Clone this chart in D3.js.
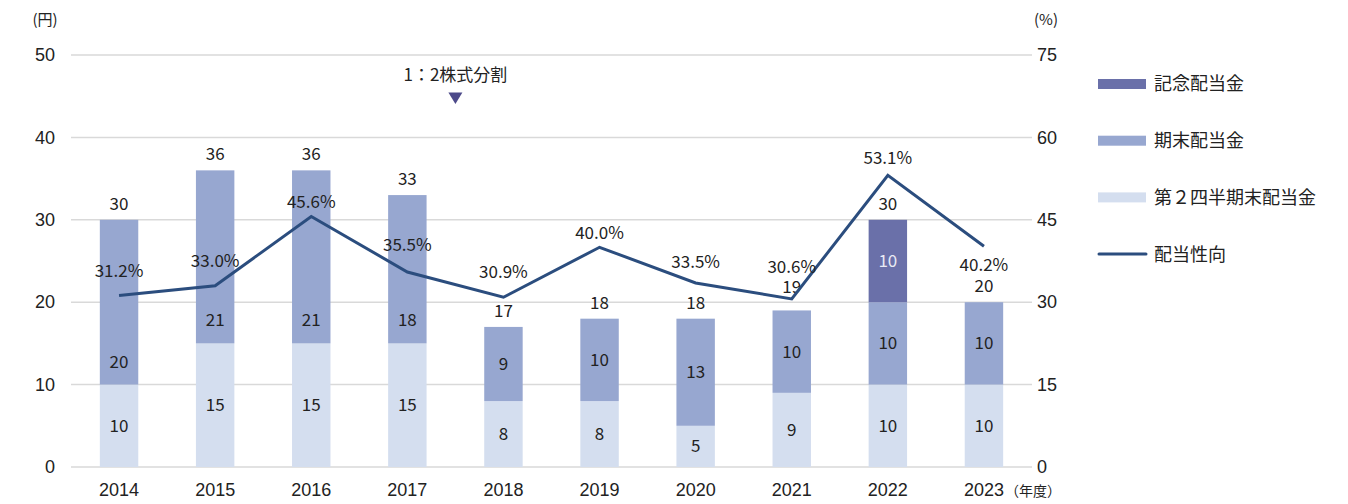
<!DOCTYPE html>
<html>
<head>
<meta charset="utf-8">
<script src="https://cdn.jsdelivr.net/npm/d3@7"></script>
<style>
  html, body { margin: 0; padding: 0; background: #fff; }
  svg { display: block; font-family: "Noto Sans CJK JP", "Noto Sans", sans-serif; }
</style>
</head>
<body>
<svg id="chart" width="1348" height="504"></svg>
<script>
// 年度
const years = ["2014", "2015", "2016", "2017", "2018", "2019", "2020", "2021", "2022", "2023"];
// 第2四半期末配当金 (円)
const interimDividend = [10, 15, 15, 15, 8, 8, 5, 9, 10, 10];
// 期末配当金 (円)
const yearEndDividend = [20, 21, 21, 18, 9, 10, 13, 10, 10, 10];
// 記念配当金 (円)
const commemorativeDividend = [0, 0, 0, 0, 0, 0, 0, 0, 10, 0];
// 配当性向 (%)
const payoutRatio = [31.2, 33.0, 45.6, 35.5, 30.9, 40.0, 33.5, 30.6, 53.1, 40.2];
// 軸目盛
const yenTicks = [0, 10, 20, 30, 40, 50];
const pctTicks = [0, 15, 30, 45, 60, 75];

// 配当性向ラベルの線からの縦オフセット (px)
const pctLabelDy = [-25, -25, -14, -27, -25, -14, -21, -32, -17, 19];
// 合計ラベルの棒上端からの縦オフセット (px)
const totalLabelDy = [-16, -16, -16, -16, -16, -16, -16, -23, -16, -16];
// 期末配当金ラベル: 区間下端からの距離 (px)、null は区間中央
const endLabelFromBottom = [23, 23, 23, 23, null, null, null, null, null, null];

const colors = {
  commemorative: "#6a70a9",
  yearEnd: "#97a7d0",
  interim: "#d4deef",
  line: "#2b4d7e",
  grid: "#d9d9d9",
  text: "#222"
};

const svg = d3.select("#chart");
const W = 1348, H = 504;
const x0 = 71, x1 = 1032;
const yTop = 55, yBot = 467;

const x = d3.scaleBand().domain(years).range([x0, x1]).paddingInner(0.6).paddingOuter(0.3);
const yL = d3.scaleLinear().domain([0, 50]).range([yBot, yTop]);
const yR = d3.scaleLinear().domain([0, 75]).range([yBot, yTop]);
const cx = yr => x(yr) + x.bandwidth() / 2;

// グリッド線
svg.append("g").selectAll("line").data(yenTicks).join("line")
  .attr("x1", x0).attr("x2", x1)
  .attr("y1", d => yL(d)).attr("y2", d => yL(d))
  .attr("stroke", colors.grid).attr("stroke-width", 1.5);

// 左軸
const leftAxis = svg.append("g").attr("transform", `translate(${x0},0)`)
  .call(d3.axisLeft(yL).tickValues(yenTicks).tickSize(0).tickPadding(16));
leftAxis.select(".domain").remove();
leftAxis.selectAll("text").attr("font-size", 18).attr("fill", colors.text).attr("font-family", "inherit");

// 右軸
const rightAxis = svg.append("g").attr("transform", `translate(${x1},0)`)
  .call(d3.axisRight(yR).tickValues(pctTicks).tickSize(0).tickPadding(5));
rightAxis.select(".domain").remove();
rightAxis.selectAll("text").attr("font-size", 18).attr("fill", colors.text).attr("font-family", "inherit");

// 下軸
const bottomAxis = svg.append("g").attr("transform", `translate(0,${yBot})`)
  .call(d3.axisBottom(x).tickSize(0).tickPadding(16));
bottomAxis.select(".domain").remove();
bottomAxis.selectAll("text").attr("font-size", 18).attr("fill", colors.text).attr("font-family", "inherit");

// 単位
svg.append("text").attr("x", 45).attr("y", 20).attr("dy", "0.35em").attr("text-anchor", "middle")
  .attr("font-size", 15).attr("fill", colors.text).text("(円)");
svg.append("text").attr("x", 1046).attr("y", 20).attr("dy", "0.35em").attr("text-anchor", "middle")
  .attr("font-size", 15).attr("fill", colors.text).text("(%)");
svg.append("text").attr("x", 1033).attr("y", 491).attr("dy", "0.35em").attr("text-anchor", "middle")
  .attr("font-size", 14).attr("fill", colors.text).text("（年度）");

// 積み上げ棒
const rows = years.map((yr, i) => ({
  year: yr, i,
  interim: interimDividend[i],
  yearEnd: yearEndDividend[i],
  commemorative: commemorativeDividend[i]
}));
const stack = d3.stack().keys(["interim", "yearEnd", "commemorative"])(rows);

const bars = svg.append("g");
stack.forEach(layer => {
  bars.append("g").attr("fill", colors[layer.key])
    .selectAll("rect").data(layer.filter(d => d[1] > d[0])).join("rect")
    .attr("x", d => x(d.data.year))
    .attr("width", x.bandwidth())
    .attr("y", d => yL(d[1]))
    .attr("height", d => yL(d[0]) - yL(d[1]));
});

// 区間ラベル
const segLabels = svg.append("g").attr("font-size", 17).attr("text-anchor", "middle");
stack.forEach(layer => {
  layer.filter(d => d[1] > d[0]).forEach(d => {
    const i = d.data.i;
    let cy = (yL(d[0]) + yL(d[1])) / 2;
    if (layer.key === "yearEnd" && endLabelFromBottom[i] != null) cy = yL(d[0]) - endLabelFromBottom[i];
    segLabels.append("text")
      .attr("x", cx(d.data.year))
      .attr("y", cy).attr("dy", "0.35em")
      .attr("fill", layer.key === "commemorative" ? "#e8eaf4" : colors.text)
      .text(d[1] - d[0]);
  });
});

// 合計ラベル
svg.append("g").attr("font-size", 17).attr("text-anchor", "middle").attr("fill", colors.text)
  .selectAll("text").data(rows).join("text")
  .attr("x", d => cx(d.year))
  .attr("y", (d, i) => yL(d.interim + d.yearEnd + d.commemorative) + totalLabelDy[i])
  .attr("dy", "0.35em")
  .text(d => d.interim + d.yearEnd + d.commemorative);

// 配当性向の折れ線
const line = d3.line()
  .x((d, i) => cx(years[i]))
  .y(d => yR(d));
svg.append("path").datum(payoutRatio)
  .attr("d", line).attr("fill", "none")
  .attr("stroke", colors.line).attr("stroke-width", 3).attr("stroke-linejoin", "miter");

svg.append("g").attr("font-size", 17).attr("text-anchor", "middle").attr("fill", colors.text)
  .selectAll("text").data(payoutRatio).join("text")
  .attr("x", (d, i) => cx(years[i]))
  .attr("y", (d, i) => yR(d) + pctLabelDy[i]).attr("dy", "0.35em")
  .text(d => d.toFixed(1) + "%");

// 株式分割の注記
const splitX = (x(years[3]) + x(years[4]) + x.bandwidth()) / 2;
svg.append("text").attr("x", splitX).attr("y", 75).attr("dy", "0.35em").attr("text-anchor", "middle")
  .attr("font-size", 17).attr("fill", colors.text).text("1：2株式分割");
svg.append("path")
  .attr("d", `M${splitX - 7},92.5 L${splitX + 7},92.5 L${splitX},104 Z`)
  .attr("fill", "#4d4a8a");

// 凡例
const legendItems = [
  { label: "記念配当金", type: "rect", color: colors.commemorative },
  { label: "期末配当金", type: "rect", color: colors.yearEnd },
  { label: "第２四半期末配当金", type: "rect", color: colors.interim },
  { label: "配当性向", type: "line", color: colors.line }
];
const lg = svg.append("g").attr("transform", "translate(1098,84)");
legendItems.forEach((it, i) => {
  const g = lg.append("g").attr("transform", `translate(0,${i * 56.7})`);
  if (it.type === "rect") {
    g.append("rect").attr("x", 0).attr("y", -5).attr("width", 48).attr("height", 10).attr("fill", it.color);
  } else {
    g.append("line").attr("x1", 1).attr("x2", 48).attr("y1", 0).attr("y2", 0)
      .attr("stroke", it.color).attr("stroke-width", 3).attr("stroke-linecap", "round");
  }
  g.append("text").attr("x", 56).attr("y", 0).attr("dy", "0.36em")
    .attr("font-size", 18).attr("fill", colors.text).text(it.label);
});
</script>
</body>
</html>
